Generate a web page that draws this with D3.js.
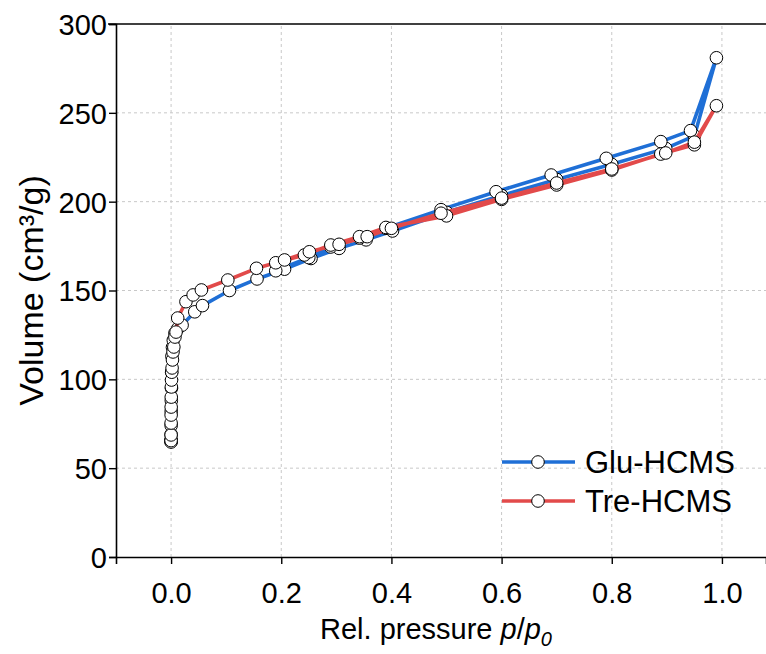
<!DOCTYPE html>
<html>
<head>
<meta charset="utf-8">
<script src="https://cdn.jsdelivr.net/npm/d3@7"></script>
<style>
body{margin:0;background:#fff}
text{font-family:Arial,"Liberation Sans",sans-serif;fill:#000}
</style>
</head>
<body>
<svg id="chart" width="766" height="654"></svg>
<script>
// Glu-HCMS, adsorption branch (p/p0, cm3/g)
var gluAdsP = [0.000005,0.00001,0.00002,0.00005,0.0001,0.0002,0.0004,0.0007,0.001,0.0015,0.0025,0.004,0.007,0.012,0.02,0.043,0.057,0.106,0.156,0.206,0.254,0.305,0.354,0.402,0.50,0.60,0.70,0.80,0.898,0.95,0.99]
var gluAdsV = [65,65.5,66,69,74,82,88,95,104,113,118,122,126,128.5,130.5,138,141.5,150,156.5,162,168,173.7,178.5,183.5,194,203.5,212.5,221,230,237,281]
// Glu-HCMS, desorption branch
var gluDesP = [0.943,0.889,0.79,0.69,0.59,0.49,0.39,0.342,0.29,0.25,0.19]
var gluDesV = [240,233.8,224.4,215,205.6,195.5,185,179.5,174.5,168.5,161.1]

// Tre-HCMS, adsorption branch
var treAdsP = [0.000005,0.00001,0.00002,0.00004,0.00008,0.00015,0.0003,0.0005,0.0008,0.0012,0.0018,0.0025,0.0035,0.005,0.007,0.009,0.012,0.027,0.040,0.055,0.103,0.155,0.19,0.242,0.29,0.342,0.39,0.50,0.60,0.70,0.80,0.889,0.95,0.99]
var treAdsV = [64.7,65.5,68.7,75.4,79.9,84.4,90,95.7,99.6,104,106.4,110.9,115.4,118.2,123.8,126.6,134.5,143.7,147.5,150.3,155.9,162.5,165.6,170,175.6,180.3,185.5,192,201.3,209.4,217.8,226.8,232,254]
// Tre-HCMS, desorption branch
var treDesP = [0.95,0.898,0.80,0.70,0.60,0.49,0.40,0.356,0.305,0.251,0.206]
var treDesV = [233.5,227.4,218.4,210.5,202,193.5,185,180.3,176,171.8,167.2]

var seriesNames = ["Glu-HCMS","Tre-HCMS"]
var seriesColors = ["#1f6fd6","#e24a4a"]
var xTicks = [0,0.2,0.4,0.6,0.8,1.0]
var yTicks = [0,50,100,150,200,250,300]

var svg = d3.select("#chart")

// scales
var x = d3.scaleLinear().domain([-0.1,1.08]).range([116,766])
var y = d3.scaleLinear().domain([0,300]).range([557,24])

function toPts(P,V){ return P.map(function(p,i){ return {x:p,y:V[i]} }) }
var series = [
    toPts(gluAdsP,gluAdsV).concat(toPts(gluDesP,gluDesV)),
    toPts(treAdsP,treAdsV).concat(toPts(treDesP,treDesV))
]

// grid lines
svg.append("g").selectAll("line").data(xTicks).enter().append("line")
    .attr("x1",d=>x(d)).attr("x2",d=>x(d))
    .attr("y1",y(0)).attr("y2",y(300))
    .attr("stroke","#c8c8c8").attr("stroke-width",1).attr("stroke-dasharray","3,3")
svg.append("g").selectAll("line").data(yTicks.filter(d=>d>0 && d<300)).enter().append("line")
    .attr("x1",x(-0.1)).attr("x2",766)
    .attr("y1",d=>y(d)).attr("y2",d=>y(d))
    .attr("stroke","#c8c8c8").attr("stroke-width",1).attr("stroke-dasharray","3,3")

// axes
var xAxis = d3.axisBottom(x).tickValues(xTicks).tickFormat(d3.format(".1f")).tickSizeOuter(0).tickSize(7).tickPadding(10)
var yAxis = d3.axisLeft(y).tickValues(yTicks).tickFormat(d=>String(d)).tickSizeOuter(0).tickSize(7).tickPadding(2)
var gx = svg.append("g").attr("transform","translate(0,"+y(0)+")").call(xAxis)
var gy = svg.append("g").attr("transform","translate("+x(-0.1)+",0)").call(yAxis)
;[gx,gy].forEach(function(g){
    g.select(".domain").attr("stroke","#000").attr("stroke-width",1.6)
    g.selectAll(".tick line").attr("stroke","#000").attr("stroke-width",1.4)
    g.selectAll(".tick text").style("font-size","29px").attr("fill","#000")
})
gx.selectAll(".tick text").attr("dy","1em")
gy.selectAll(".tick text").attr("dy","0.36em")
// top frame line
svg.append("line").attr("x1",x(-0.1)-8).attr("x2",766).attr("y1",y(300)).attr("y2",y(300))
    .attr("stroke","#000").attr("stroke-width",1.6)

// axis titles
svg.append("text").attr("transform","translate(43,"+y(150)+") rotate(-90)")
    .attr("text-anchor","middle").style("font-size","34px").text("Volume (cm³/g)")
var xt = svg.append("text").attr("x",436).attr("y",639)
    .attr("text-anchor","middle").style("font-size","29px")
xt.append("tspan").text("Rel. pressure ")
xt.append("tspan").style("font-style","italic").text("p")
xt.append("tspan").text("/")
xt.append("tspan").style("font-style","italic").text("p")
xt.append("tspan").style("font-style","italic").style("font-size","20px").attr("dy",7).text("0")

// lines + symbols
var line = d3.line().x(d=>x(d.x)).y(d=>y(d.y))
series.forEach(function(s,i){
    svg.append("path").datum(s).attr("d",line)
        .attr("fill","none").attr("stroke",seriesColors[i]).attr("stroke-width",3.6)
        .attr("stroke-linejoin","round")
    svg.append("g").selectAll("circle").data(s).enter().append("circle")
        .attr("cx",d=>x(d.x)).attr("cy",d=>y(d.y)).attr("r",6.3)
        .attr("fill","#fff").attr("stroke","#000").attr("stroke-width",1)
})

// legend
var legend = svg.append("g")
seriesNames.forEach(function(name,i){
    var ly = 462 + i*39
    legend.append("line").attr("x1",502).attr("x2",575).attr("y1",ly).attr("y2",ly)
        .attr("stroke",seriesColors[i]).attr("stroke-width",3.6)
    legend.append("circle").attr("cx",538).attr("cy",ly).attr("r",6.3)
        .attr("fill","#fff").attr("stroke","#000").attr("stroke-width",1)
    legend.append("text").attr("x",585).attr("y",ly).attr("dy","0.36em")
        .style("font-size","31px").text(name)
})
</script>
</body>
</html>
